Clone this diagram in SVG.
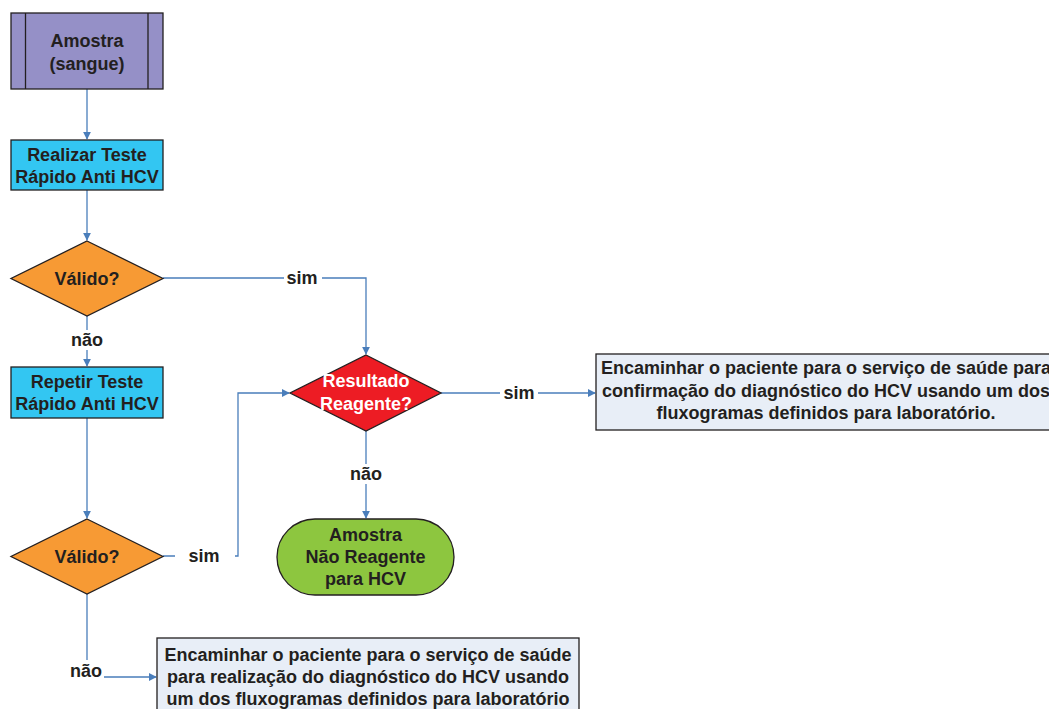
<svg xmlns="http://www.w3.org/2000/svg" width="1049" height="709" viewBox="0 0 1049 709">
<defs>
<marker id="ah" viewBox="0 0 10 10" refX="9" refY="5" markerWidth="8" markerHeight="8" markerUnits="userSpaceOnUse" orient="auto">
<path d="M0,0 L10,5 L0,10 z" fill="#4a7ebb"/>
</marker>
<style>
.shape{stroke:#231f20;stroke-width:1.3}
.t{font-family:"Liberation Sans",Arial,sans-serif;font-weight:bold;font-size:18px;fill:#231f20;text-anchor:middle}
.c{fill:none;stroke:#4a7ebb;stroke-width:1.3}
.lbl{font-family:"Liberation Sans",Arial,sans-serif;font-weight:bold;font-size:18px;fill:#231f20;text-anchor:middle}
</style>
</defs>
<rect width="1049" height="709" fill="#ffffff"/>
<g id="connectors">
<path class="c" d="M87,89 V139" marker-end="url(#ah)"/>
<path class="c" d="M87,190 V240" marker-end="url(#ah)"/>
<path class="c" d="M163,278 H366 V354" marker-end="url(#ah)"/>
<path class="c" d="M87,316 V366" marker-end="url(#ah)"/>
<path class="c" d="M87,418 V518" marker-end="url(#ah)"/>
<path class="c" d="M441,393 H595" marker-end="url(#ah)"/>
<path class="c" d="M366,431 V518" marker-end="url(#ah)"/>
<path class="c" d="M163,556 H175 M235,556 H238 V393 H289" marker-end="url(#ah)"/>
<path class="c" d="M87,594 V660 M104,677 H156" marker-end="url(#ah)"/>
<rect x="284" y="268" width="38" height="20" fill="#ffffff"/>
<text class="lbl" x="302" y="284">sim</text>
<rect x="67" y="330" width="40" height="20" fill="#ffffff"/>
<text class="lbl" x="87" y="346">não</text>
<rect x="500" y="383" width="38" height="20" fill="#ffffff"/>
<text class="lbl" x="519" y="399">sim</text>
<rect x="346" y="464" width="40" height="20" fill="#ffffff"/>
<text class="lbl" x="366" y="480">não</text>
<text class="lbl" x="204" y="562">sim</text>
<text class="lbl" x="86" y="677">não</text>
</g>
<g id="amostra">
<rect class="shape" x="11" y="13" width="152" height="76" fill="#9590c7"/>
<line class="shape" x1="25.5" y1="13" x2="25.5" y2="89"/>
<line class="shape" x1="148" y1="13" x2="148" y2="89"/>
<text class="t" x="87" y="47">Amostra</text>
<text class="t" x="87" y="70">(sangue)</text>
</g>
<g id="realizar">
<rect class="shape" x="11" y="140" width="152" height="50" fill="#33c6f2"/>
<text class="t" x="87" y="161">Realizar Teste</text>
<text class="t" x="87" y="183">Rápido Anti HCV</text>
</g>
<g id="valido1">
<polygon class="shape" points="87,241 163,278.5 87,316 11,278.5" fill="#f79a34"/>
<text class="t" x="87" y="285">Válido?</text>
</g>
<g id="repetir">
<rect class="shape" x="11" y="367" width="152" height="51" fill="#33c6f2"/>
<text class="t" x="87" y="388">Repetir Teste</text>
<text class="t" x="87" y="410">Rápido Anti HCV</text>
</g>
<g id="resultado">
<polygon class="shape" points="366,355 441,393 366,431 290,393" fill="#ed1c24"/>
<text class="t" x="366" y="387" style="fill:#ffffff">Resultado</text>
<text class="t" x="366" y="410" style="fill:#ffffff">Reagente?</text>
</g>
<g id="encaminhar1">
<rect class="shape" x="596" y="354" width="462" height="76" fill="#e8eef7"/>
<text class="t" x="826" y="374">Encaminhar o paciente para o serviço de saúde para</text>
<text class="t" x="826" y="397">confirmação do diagnóstico do HCV usando um dos</text>
<text class="t" x="826" y="419">fluxogramas definidos para laboratório.</text>
</g>
<g id="valido2">
<polygon class="shape" points="87,519 163,556.5 87,594 11,556.5" fill="#f79a34"/>
<text class="t" x="87" y="563">Válido?</text>
</g>
<g id="naoreagente">
<rect class="shape" x="277" y="519" width="177" height="76" rx="38" ry="38" fill="#8dc63f"/>
<text class="t" x="365.5" y="541">Amostra</text>
<text class="t" x="365.5" y="563">Não Reagente</text>
<text class="t" x="365.5" y="585">para HCV</text>
</g>
<g id="encaminhar2">
<rect class="shape" x="157" y="638" width="422" height="80" fill="#e8eef7"/>
<text class="t" x="368" y="661">Encaminhar o paciente para o serviço de saúde</text>
<text class="t" x="368" y="683">para realização do diagnóstico do HCV usando</text>
<text class="t" x="368" y="705">um dos fluxogramas definidos para laboratório</text>
</g>
</svg>
